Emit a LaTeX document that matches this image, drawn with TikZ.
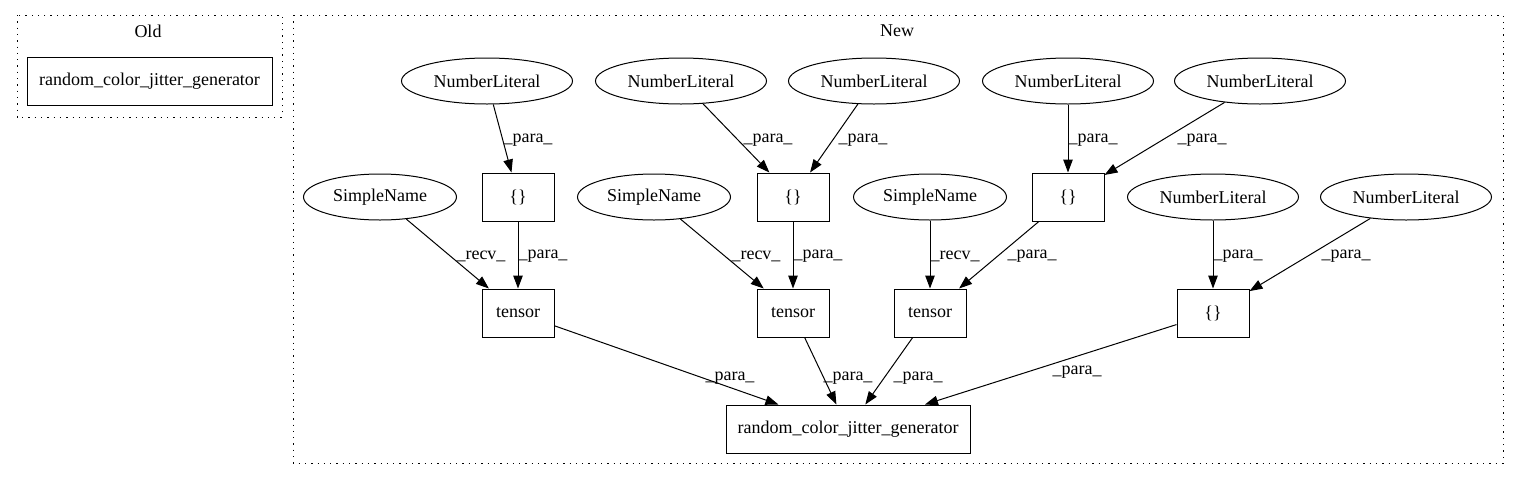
\documentclass[tikz,border=0pt]{standalone}
\usepackage{fontspec}
\setmainfont{Liberation Serif}
\usetikzlibrary{shapes.geometric, arrows.meta}

\begin{document}
\begin{tikzpicture}[
    x=1pt, y=-1pt,
    font=\fontsize{18}{21}\selectfont,
    cluster/.style={draw, line width=1pt, dash pattern=on 1.3pt off 5pt},
    litnode/.style={ellipse, draw, line width=1pt, minimum width=171pt, minimum height=46pt, inner sep=0pt},
    simplenode/.style={ellipse, draw, line width=1pt, minimum width=153pt, minimum height=46pt, inner sep=0pt},
    callnode/.style={rectangle, draw, line width=1pt, minimum width=72pt, minimum height=48pt, inner sep=0pt},
    flow/.style={line width=1pt, -{Triangle[length=13pt, width=9.5pt]}},
    lbl/.style={inner sep=0pt}
]
    \useasboundingbox (0,0) rectangle (1519,480);

    % Gruppen
    \draw[cluster] (17,15) rectangle (282,117);
    \node[lbl] (oldtitle) at (148,31) {Old};
    \draw[cluster] (293,15) rectangle (1503,463);
    \node[lbl] (newtitle) at (897,31) {New};

    % Alt
    \node[callnode, minimum width=245pt] (oldgen) at (149.5,81) {random\_color\_jitter\_generator};

    % Literale oben
    \node[litnode] (lit1) at (487,81) {NumberLiteral};
    \node[litnode] (lit2) at (681,81) {NumberLiteral};
    \node[litnode] (lit3) at (874,81) {NumberLiteral};
    \node[litnode] (lit4) at (1068,81) {NumberLiteral};
    \node[litnode] (lit5) at (1260,81) {NumberLiteral};

    % Mittlere Reihe
    \node[simplenode] (sn1) at (380,197) {SimpleName};
    \node[callnode] (arr1) at (518,197) {\{\}};
    \node[simplenode] (sn2) at (654,197) {SimpleName};
    \node[callnode] (arr2) at (793,197) {\{\}};
    \node[simplenode] (sn3) at (930,197) {SimpleName};
    \node[callnode] (arr3) at (1068,197) {\{\}};
    \node[litnode] (lit6) at (1213,197) {NumberLiteral};
    \node[litnode] (lit7) at (1406,197) {NumberLiteral};

    % tensor-Aufrufe
    \node[callnode] (ten1) at (518,313) {tensor};
    \node[callnode] (ten2) at (793,313) {tensor};
    \node[callnode] (ten3) at (930,313) {tensor};
    \node[callnode] (arr4) at (1213,313) {\{\}};

    % Ziel
    \node[callnode, minimum width=244pt] (newgen) at (848,429) {random\_color\_jitter\_generator};

    % Kanten
    \draw[flow] (lit1) -- (arr1) node[lbl] at (528,140) {\_para\_};
    \draw[flow] (lit2) -- (arr2) node[lbl] at (768,140) {\_para\_};
    \draw[flow] (lit3) -- (arr2) node[lbl] at (863,140) {\_para\_};
    \draw[flow] (lit4) -- (arr3) node[lbl] at (1093,140) {\_para\_};
    \draw[flow] (lit5) -- (arr3) node[lbl] at (1202,140) {\_para\_};

    \draw[flow] (sn1) -- (ten1) node[lbl] at (481,256) {\_recv\_};
    \draw[flow] (arr1) -- (ten1) node[lbl] at (543,256) {\_para\_};
    \draw[flow] (sn2) -- (ten2) node[lbl] at (756,256) {\_recv\_};
    \draw[flow] (arr2) -- (ten2) node[lbl] at (818,256) {\_para\_};
    \draw[flow] (sn3) -- (ten3) node[lbl] at (955,256) {\_recv\_};
    \draw[flow] (arr3) -- (ten3) node[lbl] at (1032,256) {\_para\_};
    \draw[flow] (lit6) -- (arr4) node[lbl] at (1238,256) {\_para\_};
    \draw[flow] (lit7) -- (arr4) node[lbl] at (1346,256) {\_para\_};

    \draw[flow] (ten1) -- (newgen) node[lbl] at (730,378) {\_para\_};
    \draw[flow] (ten2) -- (newgen) node[lbl] at (848,378) {\_para\_};
    \draw[flow] (ten3) -- (newgen) node[lbl] at (918,378) {\_para\_};
    \draw[flow] (arr4) -- (newgen) node[lbl] at (1077,372) {\_para\_};

\end{tikzpicture}
\end{document}
